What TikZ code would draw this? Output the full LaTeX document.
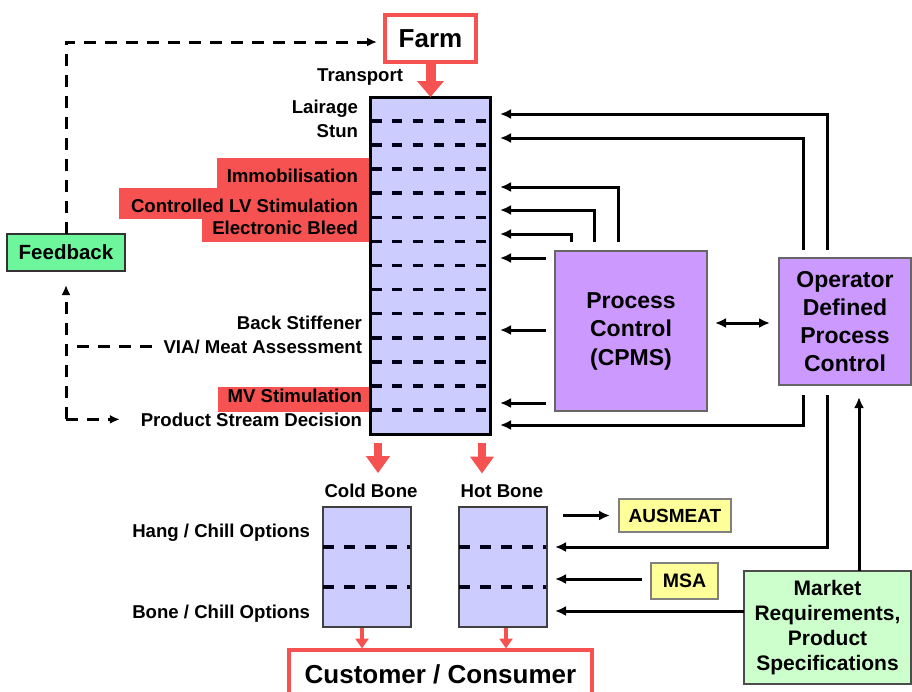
\documentclass[tikz,border=0pt]{standalone}
\usepackage{fontspec}
\setmainfont{Liberation Sans}
\usetikzlibrary{arrows.meta}
\definecolor{alarmred}{RGB}{247,82,82}
\definecolor{stagefill}{RGB}{204,204,255}
\definecolor{ctrlfill}{RGB}{204,153,255}
\definecolor{fbfill}{RGB}{110,246,156}
\definecolor{mktfill}{RGB}{204,255,204}
\definecolor{stdfill}{RGB}{255,255,153}
\begin{document}
\begin{tikzpicture}[x=1pt,y=-1pt,
  every node/.style={inner sep=0pt,outer sep=0pt},
  txt/.style={font=\fontsize{18.6}{21}\selectfont\bfseries},
  lab/.style={txt,anchor=base east},
  box/.style={anchor=north west,draw=black!75,line width=1.5pt},
  arr/.style={line width=3pt,-{Latex[length=11pt,width=10pt]}},
  fbline/.style={line width=3pt,dash pattern=on 12pt off 9pt},
  dasharr/.style={fbline,-{Latex[length=10pt,width=9pt]}},
  redbig/.style={draw=alarmred,line width=10pt,-{Triangle[length=16pt,width=26pt]}},
  redmid/.style={draw=alarmred,line width=8pt,-{Triangle[length=17pt,width=23pt]}},
  redthin/.style={draw=alarmred,line width=4pt,-{Triangle[length=10pt,width=13pt]}},
  rowdash/.style={line width=3.6pt,dash pattern=on 10pt off 10.8pt,draw=black!90!blue},
]
\useasboundingbox (0,0) rectangle (912,691);
\fill[white] (0,0) rectangle (912,691);

% red highlights behind the stage labels
\fill[alarmred] (217,158) rectangle (370,190);
\fill[alarmred] (119,188) rectangle (370,219);
\fill[alarmred] (202,217) rectangle (370,242);
\fill[alarmred] (218,387) rectangle (372,412);

% processing column
\node[box,draw=black,line width=3pt,fill=stagefill,minimum width=120pt,minimum height=337pt] (col) at (370,97) {};
\foreach \k in {1,...,13}{
  \pgfmathsetmacro\yy{97+24.07*\k}
  \draw[rowdash] (371.5,\yy) -- (489,\yy);
}

% farm and customer
\node[box,draw=alarmred,line width=3.5pt,fill=white,minimum width=91pt,minimum height=47pt,font=\fontsize{26}{30}\selectfont\bfseries] (farm) at (385,15) {Farm};
\node[box,draw=alarmred,line width=3.5pt,fill=white,minimum width=303pt,minimum height=48pt,font=\fontsize{26}{30}\selectfont\bfseries] (cust) at (289,650) {Customer / Consumer};

% stage labels
\node[lab] (transport) at (403,81) {Transport};
\node[lab] (lairage) at (358,113) {Lairage};
\node[lab] (stun) at (358,137) {Stun};
\node[lab] (immob) at (358,182) {Immobilisation};
\node[lab] (lvstim) at (358,212) {Controlled LV Stimulation};
\node[lab] (bleed) at (358,234) {Electronic Bleed};
\node[lab] (stiff) at (362,329) {Back Stiffener};
\node[lab] (via) at (362,353) {VIA/ Meat Assessment};
\node[lab] (mvstim) at (362,402) {MV Stimulation};
\node[lab] (psd) at (362,426) {Product Stream Decision};

% feedback loop
\node[box,draw=black!80,fill=fbfill,minimum width=118pt,minimum height=37pt,font=\fontsize{20.5}{24}\selectfont\bfseries] (fb) at (7,234) {Feedback};
\draw[dasharr,shorten >=8pt] (fb.north) |- ([yshift=-3.5pt]farm.west);
\draw[dasharr,shorten >=14pt] (fb.south |- psd.west) -- (fb.south);
\draw[dasharr,shorten >=21pt] (fb.south |- psd.west) -- (psd.west);
\draw[fbline,shorten <=12pt] (via.west) -- (fb.south |- via.west);

% control boxes
\node[box,draw=black!60,fill=ctrlfill,minimum width=152pt,minimum height=160pt,align=center,font=\fontsize{23}{28.5}\selectfont\bfseries] (pc) at (555,251) {Process\\Control\\(CPMS)};
\node[box,draw=black!60,fill=ctrlfill,minimum width=132pt,minimum height=127pt,align=center,font=\fontsize{23}{28}\selectfont\bfseries] (op) at (779,258) {Operator\\Defined\\Process\\Control};
\node[box,draw=black!70,fill=mktfill,minimum width=167pt,minimum height=113pt,align=center,font=\fontsize{21}{25}\selectfont\bfseries] (mk) at (744,571) {Market\\Requirements,\\Product\\Specifications};

% boning rooms
\node[txt] (coldlbl) at (371,491) {Cold Bone};
\node[txt] (hotlbl) at (502,491) {Hot Bone};
\node[box,fill=stagefill,minimum width=88pt,minimum height=120pt] (cold) at (323,507) {};
\node[box,fill=stagefill,minimum width=88pt,minimum height=120pt] (hot) at (459,507) {};
\foreach \yy in {547,587}{
  \draw[rowdash,dash pattern=on 11pt off 10pt] (323,\yy) -- (410,\yy);
  \draw[rowdash,dash pattern=on 11pt off 10pt] (459,\yy) -- (546,\yy);
}
\node[lab] (hang) at (310,537) {Hang / Chill Options};
\node[lab] (bonechill) at (310,618) {Bone / Chill Options};

% standards
\node[box,draw=black!50,fill=stdfill,minimum width=112pt,minimum height=33pt,font=\fontsize{19}{22}\selectfont\bfseries] (aus) at (619,499) {AUSMEAT};
\node[box,draw=black!50,fill=stdfill,minimum width=67pt,minimum height=36pt,font=\fontsize{19.5}{22}\selectfont\bfseries] (msa) at (651,563) {MSA};

% product flow
\draw[redbig,shorten <=2pt] (farm.south) -- (farm.south |- col.north);
\draw[redmid,shorten <=9pt,shorten >=11pt] ([xshift=-52pt]col.south) -- ([xshift=-52pt]col.south |- coldlbl.north);
\draw[redmid,shorten <=9pt,shorten >=11pt] ([xshift=52pt]col.south) -- ([xshift=52pt]col.south |- hotlbl.north);
\draw[redthin,shorten <=1pt,shorten >=1.5pt] ([xshift=-5pt]cold.south) -- ([xshift=-5pt]cold.south |- cust.north);
\draw[redthin,shorten <=1pt,shorten >=1.5pt] ([xshift=3pt]hot.south) -- ([xshift=3pt]hot.south |- cust.north);

% control signals into the column
\draw[arr,shorten >=10pt] ([xshift=48pt,yshift=8pt]op.north west) |- (col.east |- 0,114);
\draw[arr,shorten >=10pt] ([xshift=24pt,yshift=8pt]op.north west) |- (col.east |- 0,138);
\draw[arr,shorten >=10pt] ([xshift=63pt,yshift=9pt]pc.north west) |- (col.east |- 0,187);
\draw[arr,shorten >=10pt] ([xshift=39pt,yshift=9pt]pc.north west) |- (col.east |- 0,210);
\draw[arr,shorten >=10pt] ([xshift=16pt,yshift=9pt]pc.north west) |- (col.east |- 0,234);
\draw[arr,shorten <=9pt,shorten >=10pt] (pc.west |- 0,258) -- (col.east |- 0,258);
\draw[arr,shorten <=9pt,shorten >=10pt] (pc.west |- 0,330) -- (col.east |- 0,330);
\draw[arr,shorten <=9pt,shorten >=10pt] (pc.west |- 0,403) -- (col.east |- 0,403);
\draw[arr,shorten >=10pt] ([xshift=24pt,yshift=-10pt]op.south west) |- (col.east |- 0,425);
\draw[arr,{Latex[length=11pt,width=10pt]}-{Latex[length=11pt,width=10pt]},shorten <=8pt,shorten >=9pt] (pc.east |- 0,323) -- (op.west |- 0,323);

% signals around the hot boning room
\draw[arr,shorten >=8pt] ([xshift=48pt,yshift=-10pt]op.south west) |- (hot.east |- 0,547);
\draw[arr] ([xshift=115pt]mk.north west) -- ([xshift=80pt,yshift=-12pt]op.south west);
\draw[arr,shorten <=16pt,shorten >=9pt] (hot.east |- aus.west) -- (aus.west);
\draw[arr,shorten <=9pt,shorten >=8pt] (msa.west |- 0,579) -- (hot.east |- 0,579);
\draw[arr,shorten >=8pt] (mk.west |- 0,611) -- (hot.east |- 0,611);
\end{tikzpicture}
\end{document}
